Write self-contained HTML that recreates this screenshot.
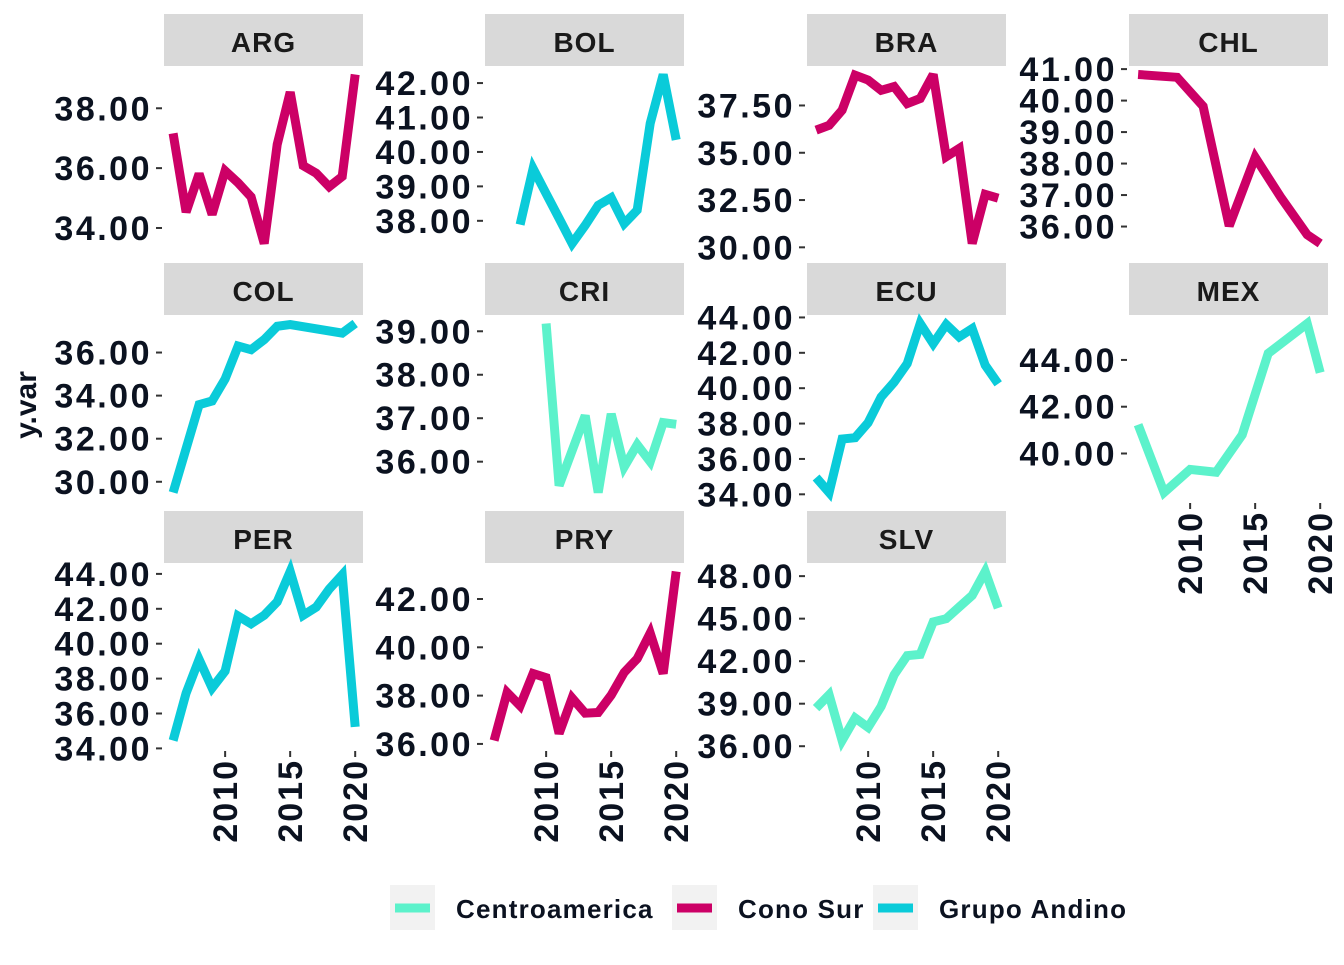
<!DOCTYPE html>
<html><head><meta charset="utf-8"><style>
body{margin:0;background:#fff;}
svg text{font-family:"Liberation Sans",sans-serif;font-weight:bold;fill:#0b1220;}
</style></head><body>
<svg id="c" width="1344" height="960"></svg>
<script>
const countries=["ARG","BOL","BRA","CHL","COL","CRI","ECU","MEX","PER","PRY","SLV"];
const groups=["Cono Sur","Grupo Andino","Cono Sur","Cono Sur","Grupo Andino","Centroamerica","Grupo Andino","Centroamerica","Grupo Andino","Cono Sur","Centroamerica"];
const yearsARG=[2006,2007,2008,2009,2010,2011,2012,2013,2014,2015,2016,2017,2018,2019,2020];
const valsARG=[37.16,34.53,35.81,34.45,35.91,35.51,35.04,33.48,36.79,38.54,36.08,35.83,35.38,35.72,39.13];
const yearsBOL=[2008,2009,2010,2011,2012,2013,2014,2015,2016,2017,2018,2019,2020];
const valsBOL=[37.89,39.52,38.79,38.07,37.34,37.87,38.45,38.67,37.92,38.31,40.83,42.25,40.35];
const yearsBRA=[2006,2007,2008,2009,2010,2011,2012,2013,2014,2015,2016,2017,2018,2019,2020];
const valsBRA=[36.2,36.45,37.25,39.1,38.84,38.3,38.5,37.6,37.87,39.14,34.79,35.23,30.2,32.8,32.6];
const yearsCHL=[2006,2009,2011,2013,2015,2017,2019,2020];
const valsCHL=[40.83,40.74,39.82,36.02,38.2,36.91,35.74,35.46];
const yearsCOL=[2006,2008,2009,2010,2011,2012,2013,2014,2015,2019,2020];
const valsCOL=[29.5,33.58,33.75,34.77,36.3,36.13,36.6,37.22,37.3,36.9,37.35];
const yearsCRI=[2010,2011,2013,2014,2015,2016,2017,2018,2019,2020];
const valsCRI=[39.18,35.45,37.06,35.29,37.1,35.88,36.39,36.0,36.9,36.86];
const yearsECU=[2006,2007,2008,2009,2010,2011,2012,2013,2014,2015,2016,2017,2018,2019,2020];
const valsECU=[34.95,34.1,37.13,37.2,38.05,39.5,40.34,41.39,43.66,42.52,43.6,42.9,43.37,41.3,40.25];
const yearsMEX=[2006,2008,2010,2012,2014,2016,2019,2020];
const valsMEX=[41.23,38.33,39.32,39.2,40.8,44.28,45.56,43.46];
const yearsPER=[2006,2007,2008,2009,2010,2011,2012,2013,2014,2015,2016,2017,2018,2019,2020];
const valsPER=[34.45,37.17,39.1,37.46,38.43,41.59,41.14,41.63,42.4,44.14,41.63,42.1,43.13,43.95,35.23];
const yearsPRY=[2006,2007,2008,2009,2010,2011,2012,2013,2014,2015,2016,2017,2018,2019,2020];
const valsPRY=[36.14,38.13,37.58,38.91,38.74,36.43,37.9,37.27,37.3,38.02,38.96,39.53,40.59,38.91,43.14];
const yearsSLV=[2006,2007,2008,2009,2010,2011,2012,2013,2014,2015,2016,2017,2018,2019,2020];
const valsSLV=[38.69,39.63,36.4,37.99,37.33,38.8,41.03,42.39,42.48,44.77,45.0,45.82,46.64,48.33,45.75];
const ticksARG=[34,36,38],ticksBOL=[38,39,40,41,42],ticksBRA=[30,32.5,35,37.5],ticksCHL=[36,37,38,39,40,41];
const ticksCOL=[30,32,34,36],ticksCRI=[36,37,38,39],ticksECU=[34,36,38,40,42,44],ticksMEX=[40,42,44];
const ticksPER=[34,36,38,40,42,44],ticksPRY=[36,38,40,42],ticksSLV=[36,39,42,45,48];
const xTicks=[2010,2015,2020];
const legendLabels=["Centroamerica","Cono Sur","Grupo Andino"];
const colors={"Centroamerica":"#5cf2cb","Cono Sur":"#cc0066","Grupo Andino":"#0acbd9"};
const D={ARG:[yearsARG,valsARG,ticksARG],BOL:[yearsBOL,valsBOL,ticksBOL],BRA:[yearsBRA,valsBRA,ticksBRA],CHL:[yearsCHL,valsCHL,ticksCHL],COL:[yearsCOL,valsCOL,ticksCOL],CRI:[yearsCRI,valsCRI,ticksCRI],ECU:[yearsECU,valsECU,ticksECU],MEX:[yearsMEX,valsMEX,ticksMEX],PER:[yearsPER,valsPER,ticksPER],PRY:[yearsPRY,valsPRY,ticksPRY],SLV:[yearsSLV,valsSLV,ticksSLV]};
const NS="http://www.w3.org/2000/svg";
const svg=document.getElementById("c");
function mk(tag,attrs,parent,text){const e=document.createElementNS(NS,tag);for(const k in attrs)e.setAttribute(k,attrs[k]);if(text!==undefined)e.textContent=text;(parent||svg).appendChild(e);return e;}
const colX=[164,485,807,1129],rowY=[14,263,511],W=199,SH=52,PH=186;
const bottomPanels={PER:1,PRY:1,SLV:1,MEX:1};
countries.forEach((c,i)=>{
  const col=i%4,row=Math.floor(i/4);
  const L=colX[col],T=rowY[row],PT=T+SH;
  const g=mk("g",{});
  
  
  const st=mk("rect",{x:L,y:T,width:W,height:SH,fill:"#d9d9d9"},g);
  
  
  const stt=mk("text",{x:L+W/2,y:T+38,"text-anchor":"middle","font-size":"28","letter-spacing":"1",style:"fill:#1a1a1a"},g,c);
  
  
  const [ys,vs,tk]=D[c];
  const mn=Math.min(...vs),mx=Math.max(...vs),r=mx-mn;
  const y0=mn-0.05*r,y1=mx+0.05*r;
  const sx=v=>L+(v-2005.3)/(2020.6-2005.3)*W;
  const sy=v=>PT+PH-(v-y0)/(y1-y0)*PH;
  tk.forEach(t=>{
    const yy=sy(t);
    const tl=mk("line",{x1:L-8,x2:L-2,y1:yy,y2:yy,stroke:"#333","stroke-width":2},g);
    
    
    const tt=mk("text",{x:L-12,y:yy+12,"text-anchor":"end","font-size":"34","letter-spacing":"2.5"},g,t.toFixed(2));
    
    
  });
  const pts=ys.map((y,k)=>sx(y).toFixed(1)+","+sy(vs[k]).toFixed(1)).join(" ");
  const pl=mk("polyline",{points:pts,fill:"none",stroke:colors[groups[i]],"stroke-width":9,"stroke-linejoin":"miter","stroke-miterlimit":"3"},g);
  
  
  if(bottomPanels[c]){
    const B=PT+PH;
    xTicks.forEach(t=>{
      const xx=sx(t);
      const xl=mk("line",{x1:xx,x2:xx,y1:B+2,y2:B+8,stroke:"#333","stroke-width":2},g);
      
      
      const xt=mk("text",{x:0,y:0,"text-anchor":"end","font-size":"34","letter-spacing":"2",transform:`translate(${xx+12},${B+10}) rotate(-90)`},g,String(t));
      
      
    });
  }
});
const yt=mk("text",{x:0,y:0,"text-anchor":"middle","font-size":"30",transform:"translate(36,405) rotate(-90)"},svg,"y.var");


const lx=[390,672,873];
legendLabels.forEach((lab,k)=>{
  const g=mk("g",{});
  
  
  mk("rect",{x:lx[k],y:885,width:45,height:45,fill:"#f2f2f2"},g);
  mk("line",{x1:lx[k]+5,x2:lx[k]+40,y1:908,y2:908,stroke:colors[lab],"stroke-width":9},g);
  mk("text",{x:lx[k]+66,y:918,"font-size":"26","letter-spacing":"1.2"},g,lab);
});
</script>
</body></html>
